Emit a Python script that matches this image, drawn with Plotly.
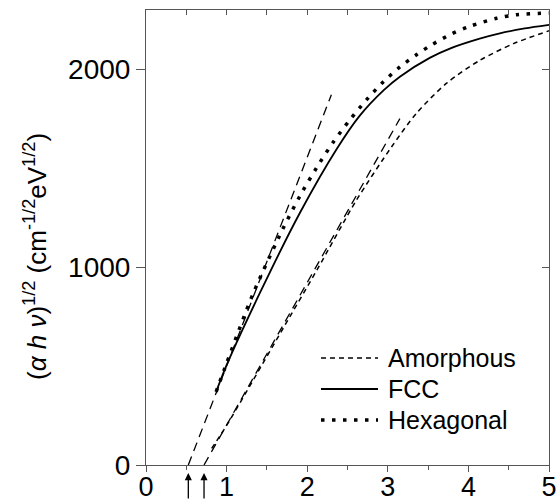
import plotly.graph_objects as go

# ---- data ----
amor_x = [0.815, 1.0, 1.33, 1.70, 2.12, 2.61, 3.05, 3.36, 3.73, 4.14, 4.56, 5.0]
amor_y = [84, 200, 429, 690, 985, 1338, 1610, 1780, 1930, 2045, 2130, 2195]

fcc_x = [0.87, 1.0, 1.41, 1.91, 2.37, 2.65, 2.95, 3.15, 3.52, 3.77, 4.14, 4.39, 4.7, 5.0]
fcc_y = [370, 505, 867, 1275, 1600, 1765, 1895, 1963, 2058, 2105, 2155, 2182, 2207, 2225]

hex_x = [0.87, 1.0, 1.33, 1.70, 1.91, 2.12, 2.32, 2.53, 2.74, 2.94, 3.15, 3.36, 3.52,
         3.77, 4.0, 4.35, 4.6, 5.0]
hex_y = [370, 514, 867, 1195, 1360, 1505, 1630, 1745, 1848, 1935, 2012, 2075, 2118,
         2175, 2215, 2258, 2276, 2285]

fit_hex_x = [0.525, 2.30]
fit_hex_y = [0, 1872]
fit_amor_x = [0.72, 3.15]
fit_amor_y = [0, 1751]

intercepts = [0.525, 0.72]

x_ticks = [0, 1, 2, 3, 4, 5]
y_ticks = [0, 1000, 2000]
legend_names = ["Amorphous", "FCC", "Hexagonal"]

# ---- figure ----
W, H = 557, 502
L, R, T, B = 146, 8, 10, 37
PW, PH = W - L - R, H - T - B

def px2paper(px, py):
    return (px - L) / PW, (H - B - py) / PH

fig = go.Figure()

dash_amor = "5px,4px"
dash_hex = "3.5px,7.5px"
dash_fit = "9px,6px"

fig.add_trace(go.Scatter(x=fit_hex_x, y=fit_hex_y, mode="lines",
                         line=dict(color="black", width=1.3, dash=dash_fit), showlegend=False))
fig.add_trace(go.Scatter(x=fit_amor_x, y=fit_amor_y, mode="lines",
                         line=dict(color="black", width=1.3, dash=dash_fit), showlegend=False))
fig.add_trace(go.Scatter(x=amor_x, y=amor_y, mode="lines", line_shape="spline",
                         line=dict(color="black", width=1.5, dash=dash_amor, smoothing=0.8),
                         showlegend=False))
fig.add_trace(go.Scatter(x=fcc_x, y=fcc_y, mode="lines", line_shape="spline",
                         line=dict(color="black", width=1.8, smoothing=0.8), showlegend=False))
fig.add_trace(go.Scatter(x=hex_x, y=hex_y, mode="lines", line_shape="spline",
                         line=dict(color="black", width=3.5, dash=dash_hex, smoothing=0.8),
                         showlegend=False))
# invisible trace for mirror axes
fig.add_trace(go.Scatter(x=[0], y=[0], xaxis="x2", yaxis="y2", mode="markers",
                         marker=dict(opacity=0), showlegend=False, hoverinfo="skip"))

axis_col = "#555555"
fig.update_layout(
    width=W, height=H,
    margin=dict(l=L, r=R, t=T, b=B),
    paper_bgcolor="white", plot_bgcolor="white",
    font=dict(family="Liberation Sans, Arial, sans-serif", color="black"),
    xaxis=dict(range=[0, 5], tickvals=x_ticks, ticks="outside", ticklen=6,
               tickcolor=axis_col, showline=True, linecolor=axis_col, linewidth=1,
               showgrid=False, zeroline=False, tickfont=dict(size=27), automargin=False,
               ticklabelstandoff=-8,
               minor=dict(dtick=0.5, ticks="outside", ticklen=4, tickcolor=axis_col)),
    yaxis=dict(range=[0, 2300], tickvals=y_ticks, ticks="outside", ticklen=9,
               tickcolor=axis_col, showline=True, linecolor=axis_col, linewidth=1,
               showgrid=False, zeroline=False, tickfont=dict(size=28), automargin=False),
    xaxis2=dict(range=[0, 5], overlaying="x", side="top", anchor="y",
                dtick=0.5, tick0=0, ticks="inside", ticklen=5, tickcolor=axis_col,
                showline=True, linecolor=axis_col, linewidth=1, automargin=False,
                showticklabels=False, showgrid=False, zeroline=False),
    yaxis2=dict(range=[0, 2300], overlaying="y", side="right", anchor="x",
                tickvals=y_ticks, ticks="inside", ticklen=7, tickcolor=axis_col,
                showline=True, linecolor=axis_col, linewidth=1, automargin=False,
                showticklabels=False, showgrid=False, zeroline=False),
)

# y-axis title
tx, ty = px2paper(35, 257)
fig.add_annotation(xref="paper", yref="paper", x=tx, y=ty, textangle=-90,
                   text="(<i>α h ν</i>)<sup>1/2</sup> (cm<sup>-1/2</sup>eV<sup>1/2</sup>)",
                   showarrow=False, font=dict(size=26), xanchor="center", yanchor="middle")

# arrows marking intercepts
_, ay_head = px2paper(0, 473)
for xi in intercepts:
    fig.add_annotation(xref="x", yref="paper", x=xi, y=ay_head, ax=0, ay=27,
                       text="", showarrow=True, arrowhead=2, arrowsize=1.1,
                       arrowwidth=1.3, arrowcolor="black")

# manual legend
legend_styles = [dict(width=1.5, dash=dash_amor), dict(width=1.8, dash="solid"),
                 dict(width=3.5, dash=dash_hex)]
rows_py = [358, 389, 420]
for name, st, py in zip(legend_names, legend_styles, rows_py):
    x0, yy = px2paper(321, py)
    x1, _ = px2paper(378, py)
    fig.add_shape(type="line", xref="paper", yref="paper", x0=x0, x1=x1, y0=yy, y1=yy,
                  line=dict(color="black", **st))
    xt, _ = px2paper(386, py)
    fig.add_annotation(xref="paper", yref="paper", x=xt, y=yy, text=name,
                       showarrow=False, xanchor="left", yanchor="middle",
                       font=dict(size=25))

fig.write_html("out.html")
